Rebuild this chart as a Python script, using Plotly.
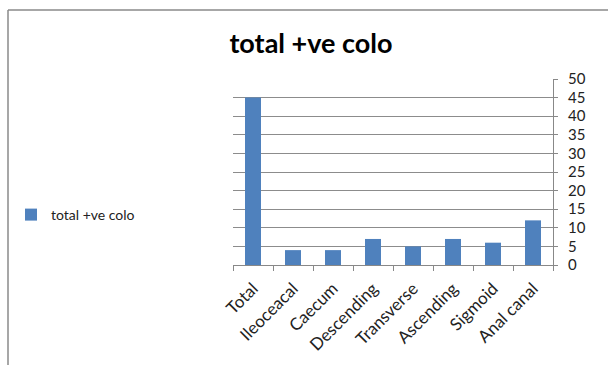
import plotly.graph_objects as go

categories = ["Total", "Ileoceacal", "Caecum", "Descending", "Transverse", "Ascending", "Sigmoid", "Anal canal"]
values = [45, 4, 4, 7, 5, 7, 6, 12]
series_name = "total +ve colo"
y_ticks = [0, 5, 10, 15, 20, 25, 30, 35, 40, 45, 50]

W, H = 608, 365
L, R, T, B = 233, 55, 79, 100
PW, PH = W - L - R, H - T - B

fig = go.Figure()
fig.add_trace(go.Bar(x=categories, y=values, name=series_name,
                     marker=dict(color="#4F81BD", line=dict(width=0)),
                     showlegend=True))

font_family = "Lato, Open Sans, sans-serif"
fig.update_layout(
    width=W, height=H,
    margin=dict(l=L, r=R, t=T, b=B, autoexpand=False),
    paper_bgcolor="white", plot_bgcolor="white",
    bargap=0.6,
    showlegend=True,
    title=dict(text="<b>total +ve colo</b>", x=311 / W, xanchor="center",
               y=1 - 44 / H, yanchor="middle",
               font=dict(family=font_family, size=27, color="black")),
    legend=dict(x=(11 - L) / PW, xanchor="left", y=(H - B - 215) / PH,
                yanchor="middle", bgcolor="rgba(0,0,0,0)",
                font=dict(family=font_family, size=14, color="#222")),
    xaxis=dict(type="category", tickangle=-45, tickson="boundaries",
               ticks="outside", ticklen=5, tickcolor="#888",
               ticklabelstandoff=6,
               showline=True, linecolor="#888", linewidth=1, showgrid=False,
               tickfont=dict(family=font_family, size=17, color="#222")),
    yaxis=dict(side="right", range=[0, 50], tickvals=y_ticks,
               ticks="outside", ticklen=4, tickcolor="#888",
               ticklabelstandoff=7,
               showline=True, linecolor="#888", linewidth=1,
               showgrid=True, gridcolor="#8c8c8c", gridwidth=1, zeroline=False,
               tickfont=dict(family=font_family, size=15, color="#222")),
    shapes=[
        dict(type="line", xref="paper", yref="paper",
             x0=(8 - L) / PW, x1=(8 - L) / PW,
             y0=(H - B - 10) / PH, y1=(H - B - H - 5) / PH,
             line=dict(color="#8a8a8a", width=1.5)),
        dict(type="line", xref="paper", yref="paper",
             x0=(8 - L) / PW, x1=(W + 5 - L) / PW,
             y0=(H - B - 10) / PH, y1=(H - B - 10) / PH,
             line=dict(color="#8a8a8a", width=1.5)),
    ],
)

fig.write_html("out.html")
